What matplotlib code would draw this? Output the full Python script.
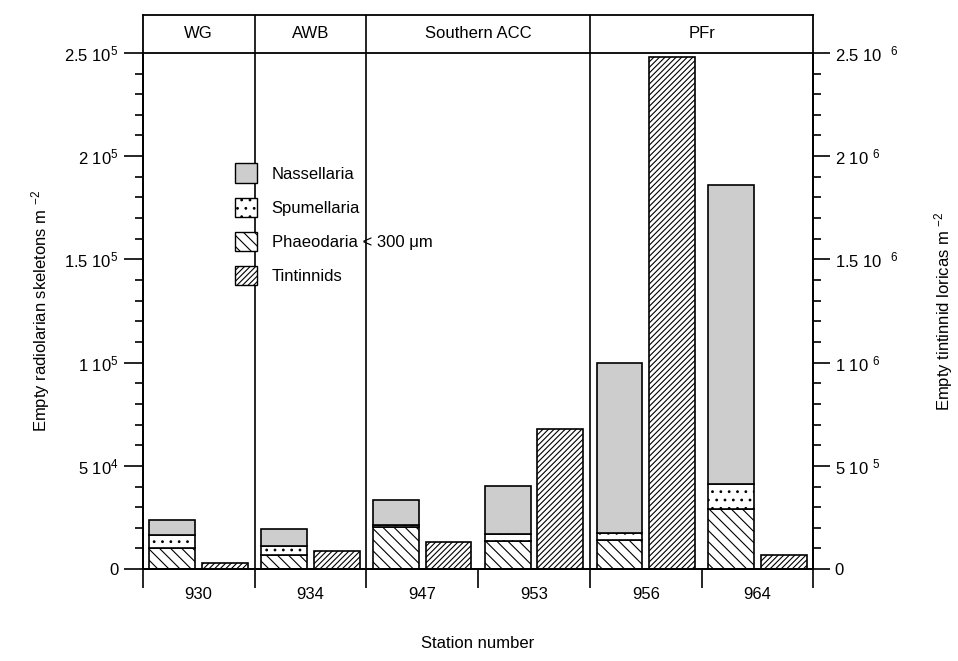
import numpy as np
import matplotlib.pyplot as plt
from matplotlib.patches import Patch
from matplotlib.ticker import FixedLocator, MultipleLocator

plt.rcParams['font.family'] = ['Liberation Sans', 'DejaVu Sans']
plt.rcParams['mathtext.default'] = 'regular'
plt.rcParams['hatch.linewidth'] = 0.8

# values
stations = ['930', '934', '947', '953', '956', '964']
phaeodaria = [1.0e4, 0.68e4, 2.05e4, 1.36e4, 1.40e4, 2.9e4]
spumellaria = [0.65e4, 0.43e4, 0.1e4, 0.34e4, 0.34e4, 1.2e4]
nassellaria = [0.75e4, 0.83e4, 1.2e4, 2.32e4, 8.26e4, 14.5e4]
tintinnids = [2.9e4, 8.7e4, 1.31e5, 6.78e5, 2.48e6, 6.8e4]

regions = ['WG', 'AWB', 'Southern ACC', 'PFr']
region_edges = [0, 1, 2, 4, 6]

left_ticks = [0, 5e4, 1e5, 1.5e5, 2e5, 2.5e5]
left_labels = ['0', '5 10$^{4}$', '1 10$^{5}$', '1.5 10$^{5}$', '2 10$^{5}$', '2.5 10$^{5}$']
right_ticks = [0, 5e5, 1e6, 1.5e6, 2e6, 2.5e6]
right_labels = ['0', '5 10 $^{5}$', '1 10 $^{6}$', '1.5 10  $^{6}$', '2 10 $^{6}$', '2.5 10  $^{6}$']

H_PH = '\\\\\\'
H_SP = '..'
H_TI = '//////'

fig = plt.figure(figsize=(9.58, 6.61), dpi=100)
ax = fig.add_axes([0.149, 0.139, 0.7, 0.781])
ax2 = ax.twinx()

x = np.arange(len(stations))
w = 0.41
xr = x + 0.265
xt = x + 0.735
ph = np.array(phaeodaria)
sp = np.array(spumellaria)
na = np.array(nassellaria)

kw = dict(width=w, edgecolor='black', linewidth=1.2)
ax.bar(xr, ph, facecolor='white', hatch=H_PH, **kw)
ax.bar(xr, sp, bottom=ph, facecolor='white', hatch=H_SP, **kw)
ax.bar(xr, na, bottom=ph + sp, facecolor='#cdcdcd', **kw)
ax2.bar(xt, tintinnids, facecolor='white', hatch=H_TI, **kw)

ax.set_xlim(0, len(stations))
ax.set_ylim(0, 2.5e5)
ax2.set_ylim(0, 2.5e6)

for e in region_edges[1:-1]:
    ax.axvline(e, color='black', lw=1.2)

ax.xaxis.set_major_locator(FixedLocator(np.arange(len(stations) + 1)))
ax.xaxis.set_major_formatter(plt.NullFormatter())
ax.set_xticks(x + 0.5, stations, minor=True)
ax.tick_params(axis='x', which='major', direction='out', length=14, width=1.2)
ax.tick_params(axis='x', which='minor', length=0, labelsize=12, pad=13)

ax.set_yticks(left_ticks, left_labels)
ax.yaxis.set_minor_locator(MultipleLocator(1e4))
ax.tick_params(axis='y', which='major', direction='out', length=14, width=1.2, labelsize=12)
ax.tick_params(axis='y', which='minor', direction='out', length=6, width=1.2)

ax2.set_yticks(right_ticks, right_labels)
ax2.yaxis.set_minor_locator(MultipleLocator(1e5))
ax2.tick_params(axis='y', which='major', direction='out', length=12, width=1.2, labelsize=12)
ax2.tick_params(axis='y', which='minor', direction='out', length=6, width=1.2)

for a in (ax, ax2):
    for s in a.spines.values():
        s.set_linewidth(1.3)
ax.spines['top'].set_visible(False)
ax2.spines['top'].set_visible(False)

ax.set_ylabel('Empty radiolarian skeletons m $^{-2}$', fontsize=12, labelpad=9)
ax2.set_ylabel('Empty tintinnid loricas m $^{-2}$', fontsize=12, labelpad=24)
ax.set_xlabel('Station number', fontsize=12, labelpad=24)

# region header strip
hx = fig.add_axes([0.149, 0.92, 0.7, 0.058])
hx.set_xlim(0, len(stations))
hx.set_ylim(0, 1)
hx.set_xticks([])
hx.set_yticks([])
for s in hx.spines.values():
    s.set_linewidth(1.3)
for e in region_edges[1:-1]:
    hx.axvline(e, color='black', lw=1.2)
for name, a, b in zip(regions, region_edges[:-1], region_edges[1:]):
    hx.text((a + b) / 2, 0.5, name, ha='center', va='center', fontsize=12)

handles = [
    Patch(facecolor='#cdcdcd', edgecolor='black', label='Nassellaria'),
    Patch(facecolor='white', edgecolor='black', hatch=H_SP, label='Spumellaria'),
    Patch(facecolor='white', edgecolor='black', hatch=H_PH, label='Phaeodaria < 300 \u03bcm'),
    Patch(facecolor='white', edgecolor='black', hatch=H_TI, label='Tintinnids'),
]
ax.legend(handles=handles, loc='upper left', bbox_to_anchor=(0.115, 0.815),
          frameon=False, fontsize=12, handlelength=1.3, handleheight=1.4,
          labelspacing=0.9, handletextpad=0.9)

fig.savefig('out.png', dpi=100)
